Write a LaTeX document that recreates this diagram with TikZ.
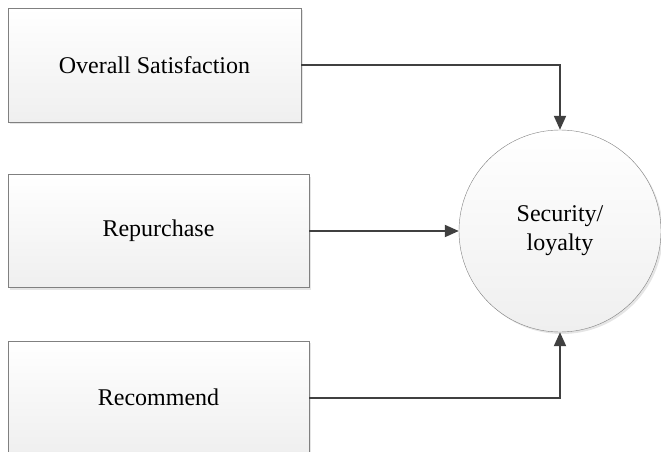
\documentclass[tikz,border=0pt]{standalone}
\usepackage{fontspec}
\setmainfont{Liberation Serif}
\usetikzlibrary{arrows.meta,shadows}
\definecolor{rim}{HTML}{808080}
\definecolor{fade}{HTML}{EFEFEF}
\definecolor{wire}{HTML}{404040}

\begin{document}
\begin{tikzpicture}[x=1pt,y=-1pt,
  factor/.style={draw=rim,top color=white,bottom color=fade,inner sep=0pt,
    minimum height=113pt,font=\fontsize{24}{29}\selectfont,
    drop shadow={shadow xshift=2pt,shadow yshift=-2pt,opacity=0.25,fill=black!40}},
  goal/.style={circle,draw=rim,top color=white,bottom color=fade,inner sep=0pt,
    minimum size=202pt,align=center,font=\fontsize{24}{29}\selectfont,
    drop shadow={shadow xshift=2pt,shadow yshift=-2pt,opacity=0.25,fill=black!40}},
  link/.style={draw=wire,line width=2pt,-{Triangle[length=14pt,width=12pt]}}]
\useasboundingbox (0,0) rectangle (661,452);

\node[factor,minimum width=293pt,minimum height=114pt] (sat) at (154.5,65) {Overall Satisfaction};
\node[factor,minimum width=301pt] (rep) at (158.5,231) {Repurchase};
\node[factor,minimum width=301pt] (rec) at (158.5,397.5) {Recommend};
\node[goal] (loy) at (560,231) {Security/\\loyalty};

\draw[link] (sat.east) -| (loy.north);
\draw[link] (rep.east) -- (loy.west);
\draw[link] (rec.east) -| (loy.south);

\end{tikzpicture}
\end{document}
